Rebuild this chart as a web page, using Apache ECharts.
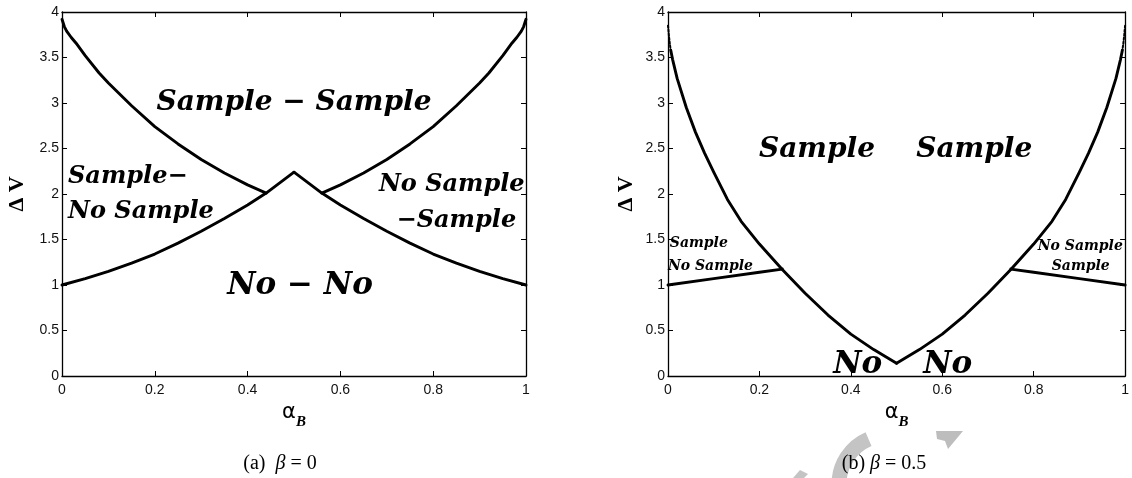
<!DOCTYPE html>
<html>
<head>
<meta charset="utf-8">
<script src="https://cdn.jsdelivr.net/npm/echarts@6/dist/echarts.min.js"></script>
<style>
html,body{margin:0;padding:0;background:#fff;}
#c{width:1132px;height:478px;}
</style>
</head>
<body>
<div id="c"></div>
<script>
// ---------- tick labels ----------
const xTicks = [0, 0.2, 0.4, 0.6, 0.8, 1];
const yTicks = [0, 0.5, 1, 1.5, 2, 2.5, 3, 3.5, 4];

// ---------- panel (a): beta = 0 ----------
// upper-left boundary (mirrored on the right side)
const aUpperAlpha = [0, 0.005, 0.01, 0.02, 0.03, 0.05, 0.08, 0.1, 0.15, 0.2, 0.25, 0.3, 0.35, 0.4, 0.44];
const aUpperDV    = [3.92, 3.84, 3.79, 3.72, 3.66, 3.52, 3.33, 3.22, 2.97, 2.74, 2.55, 2.38, 2.23, 2.10, 2.01];
// lower-left boundary rising to the peak (mirrored on the right side)
const aLowerAlpha = [0, 0.05, 0.1, 0.15, 0.2, 0.25, 0.3, 0.35, 0.4, 0.44, 0.5];
const aLowerDV    = [1.0, 1.07, 1.15, 1.24, 1.34, 1.46, 1.59, 1.73, 1.88, 2.01, 2.24];

// ---------- panel (b): beta = 0.5 ----------
// U-shaped boundary, left branch (mirrored on the right side)
const bUTopAlpha = [0, 0.001, 0.002, 0.004, 0.006];
const bUTopDV    = [3.85, 3.80, 3.74, 3.65, 3.58];
const bUAlpha = [0.006, 0.01, 0.02, 0.04, 0.06, 0.08, 0.1, 0.13, 0.16, 0.2, 0.25, 0.3, 0.35, 0.4, 0.45, 0.5];
const bUDV    = [3.58, 3.48, 3.27, 2.95, 2.68, 2.45, 2.24, 1.94, 1.70, 1.45, 1.17, 0.91, 0.67, 0.46, 0.29, 0.14];
// short side boundary (mirrored on the right side)
const bSideAlpha = [0, 0.1, 0.2, 0.25];
const bSideDV    = [1.0, 1.07, 1.14, 1.175];

// ---------- region labels ----------
const aNoteText  = ['Sample − Sample', 'Sample−', 'No Sample', 'No Sample', '−Sample', 'No − No'];
const aNoteAlpha = [0.50, 0.013, 0.013, 0.84, 0.85, 0.513];
const aNoteDV    = [3.0, 2.19, 1.80, 2.10, 1.71, 0.99];
const bNoteText  = ['Sample', 'Sample', 'Sample', 'No Sample', 'No Sample', 'Sample', 'No', 'No'];
const bNoteAlpha = [0.326, 0.67, 0.004, 0.0, 0.902, 0.903, 0.415, 0.612];
const bNoteDV    = [2.49, 2.49, 1.46, 1.20, 1.42, 1.20, 0.12, 0.12];

// ---------- helpers ----------
const pairs = (xs, ys) => xs.map((x, i) => [x, ys[i]]);
const mirror = (xs, ys) => xs.map((x, i) => [1 - x, ys[i]]);

const chart = echarts.init(document.getElementById('c'), null, {renderer: 'canvas'});

const noteFont = 'DejaVu Serif';
const aNoteSize = [28, 24, 24, 24, 24, 31];
const aNoteAlign = ['center', 'left', 'left', 'center', 'center', 'center'];
const bNoteSize = [28, 28, 14, 14, 14, 14, 31, 31];
const bNoteAlign = ['center', 'center', 'left', 'left', 'center', 'center', 'center', 'center'];

function notes(texts, xs, ys, sizes, aligns) {
  return texts.map((t, i) => ({
    value: [xs[i], ys[i]],
    label: {
      show: true, position: 'inside', formatter: t, align: aligns[i], verticalAlign: 'middle',
      fontFamily: noteFont, fontWeight: 'bold', fontStyle: 'italic', fontSize: sizes[i],
      color: '#000', opacity: 1, textBorderWidth: 0
    }
  }));
}

const lineCol = '#000';
const lw = 2.9;
function line(data, xi, dotted) {
  return {
    type: 'line', data: data, xAxisIndex: xi, yAxisIndex: xi, showSymbol: false, symbol: 'none',
    lineStyle: {color: lineCol, width: dotted ? 2 : lw, type: dotted ? 'dotted' : 'solid', cap: 'round', join: 'round'},
    silent: true, animation: false, z: 3
  };
}

const axisLabelStyle = {fontFamily: 'Liberation Sans', fontSize: 14, color: '#111'};
const xName = {
  name: '{a|α}{b|B}',
  nameLocation: 'middle', nameGap: 26,
  nameTextStyle: {
    rich: {
      a: {fontFamily: 'DejaVu Sans', fontSize: 21, color: '#000', verticalAlign: 'top', lineHeight: 28},
      b: {fontFamily: 'Liberation Serif', fontSize: 15, fontWeight: 'bold', fontStyle: 'italic', color: '#000', verticalAlign: 'bottom', lineHeight: 28, padding: [12, 0, 0, 0]}
    }
  }
};
const yName = {
  name: 'Δ V', nameLocation: 'middle', nameRotate: 90,
  nameTextStyle: {fontFamily: 'Liberation Serif', fontWeight: 'bold', fontSize: 22, color: '#000'}
};

function xAxisDef(grid, pos) {
  const base = {
    type: 'value', gridIndex: grid, position: pos, min: xTicks[0], max: xTicks[xTicks.length - 1],
    interval: xTicks[1] - xTicks[0],
    axisLine: {show: true, onZero: false, lineStyle: {color: '#000', width: 1.3}},
    axisTick: {show: true, inside: true, length: 5, lineStyle: {color: '#000', width: 1}},
    splitLine: {show: false},
    axisLabel: Object.assign({show: pos === 'bottom', margin: 7}, axisLabelStyle)
  };
  if (pos === 'bottom') Object.assign(base, xName);
  return base;
}
function yAxisDef(grid, pos, gap) {
  const base = {
    type: 'value', gridIndex: grid, position: pos, min: yTicks[0], max: yTicks[yTicks.length - 1],
    interval: yTicks[1] - yTicks[0],
    axisLine: {show: true, onZero: false, lineStyle: {color: '#000', width: 1.3}},
    axisTick: {show: true, inside: true, length: 5, lineStyle: {color: '#000', width: 1}},
    splitLine: {show: false},
    axisLabel: Object.assign({show: pos === 'left', margin: 3}, axisLabelStyle)
  };
  if (pos === 'left') Object.assign(base, yName, {nameGap: gap});
  return base;
}

const option = {
  backgroundColor: '#fff',
  animation: false,
  grid: [
    {left: 62, top: 12, width: 464, height: 364, containLabel: false},
    {left: 668, top: 12, width: 463, height: 364, containLabel: false}
  ],
  xAxis: [xAxisDef(0, 'bottom'), xAxisDef(0, 'top'), xAxisDef(1, 'bottom'), xAxisDef(1, 'top')],
  yAxis: [yAxisDef(0, 'left', 34), yAxisDef(0, 'right'), yAxisDef(1, 'left', 31), yAxisDef(1, 'right')],
  series: [
    // panel (a)
    line(pairs(aUpperAlpha, aUpperDV), 0),
    line(mirror(aUpperAlpha, aUpperDV), 0),
    line(pairs(aLowerAlpha, aLowerDV), 0),
    line(mirror(aLowerAlpha, aLowerDV), 0),
    // panel (b)
    line(pairs(bUTopAlpha, bUTopDV), 2, true),
    line(mirror(bUTopAlpha, bUTopDV), 2, true),
    line(pairs(bUAlpha, bUDV), 2),
    line(mirror(bUAlpha, bUDV), 2),
    line(pairs(bSideAlpha, bSideDV), 2),
    line(mirror(bSideAlpha, bSideDV), 2),
    {
      type: 'scatter', xAxisIndex: 0, yAxisIndex: 0, symbolSize: 0, silent: true, z: 5,
      itemStyle: {opacity: 1}, emphasis: {disabled: true},
      data: notes(aNoteText, aNoteAlpha, aNoteDV, aNoteSize, aNoteAlign)
    },
    {
      type: 'scatter', xAxisIndex: 2, yAxisIndex: 2, symbolSize: 0, silent: true, z: 5,
      itemStyle: {opacity: 1}, emphasis: {disabled: true},
      data: notes(bNoteText, bNoteAlpha, bNoteDV, bNoteSize, bNoteAlign)
    }
  ],
  graphic: [
    // faint watermark pieces
    {type: 'arc', shape: {cx: 888, cy: 484, r: 49, startAngle: Math.PI * 1.0, endAngle: Math.PI * 1.37},
     style: {stroke: '#c4c4c4', lineWidth: 15, fill: null}, z: 0, silent: true},
    {type: 'polygon', shape: {points: [[936, 431], [963, 431], [948, 449], [945, 441], [937, 439]]},
     style: {fill: '#bdbdbd'}, z: 0, silent: true},
    {type: 'polygon', shape: {points: [[793, 478], [800, 470], [808, 474], [804, 478]]},
     style: {fill: '#c4c4c4'}, z: 0, silent: true},
    // captions
    {type: 'text', x: 280, y: 464, z: 10,
     style: {text: '{n|(a)  }{b|β}{n| = 0}', align: 'center', verticalAlign: 'middle',
       rich: {n: {fontFamily: 'Liberation Serif', fontSize: 20, fill: '#000'},
              b: {fontFamily: 'Liberation Serif', fontSize: 20, fontStyle: 'italic', fill: '#000'}}}},
    {type: 'text', x: 884, y: 464, z: 10,
     style: {text: '{n|(b) }{b|β}{n| = 0.5}', align: 'center', verticalAlign: 'middle',
       rich: {n: {fontFamily: 'Liberation Serif', fontSize: 20, fill: '#000'},
              b: {fontFamily: 'Liberation Serif', fontSize: 20, fontStyle: 'italic', fill: '#000'}}}}
  ]
};
chart.setOption(option);
</script>
</body>
</html>
